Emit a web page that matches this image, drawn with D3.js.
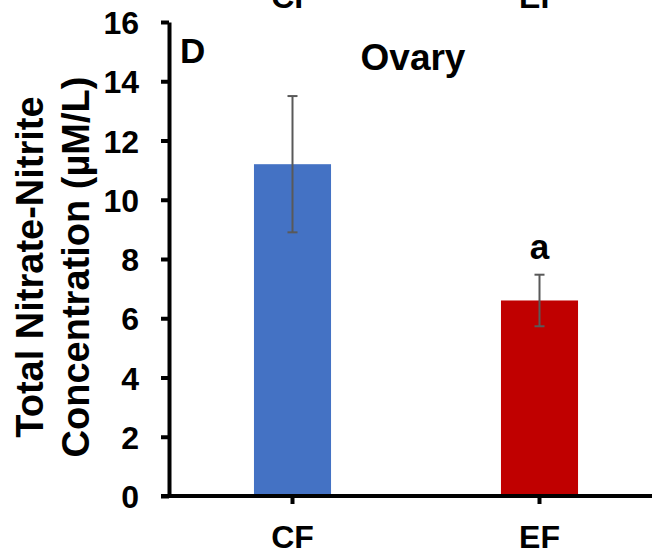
<!DOCTYPE html>
<html>
<head>
<meta charset="utf-8">
<script src="https://d3js.org/d3.v7.min.js"></script>
<style>
  body { margin: 0; background: #fff; }
  svg text { font-family: "Liberation Sans", Arial, sans-serif; font-weight: bold; fill: #000; }
</style>
</head>
<body>
<div id="chart"></div>
<script>
// data
var groups = ["CF", "EF"];
var means = [11.2, 6.6];
var errors = [2.3, 0.87];
var colors = ["#4472C4", "#C00000"];
var marks = ["", "a"];
var yTicks = [0, 2, 4, 6, 8, 10, 12, 14, 16];

var W = 652, H = 557;
var margin = {top: 22, right: 0, bottom: 61, left: 169};

var svg = d3.select("#chart").append("svg")
  .attr("width", W).attr("height", H);

var g = svg.append("g")
  .attr("transform", "translate(" + margin.left + "," + margin.top + ")");

var w = W - margin.left - margin.right,
    h = H - margin.top - margin.bottom;

var x = d3.scaleBand().domain(groups).range([0, 494]).paddingInner(0.688).paddingOuter(0.344);
var y = d3.scaleLinear().domain([0, 16]).range([h, 0]);

// bars
g.selectAll("rect.bar").data(groups).enter().append("rect")
  .attr("x", d => x(d))
  .attr("y", (d, i) => y(means[i]))
  .attr("width", x.bandwidth())
  .attr("height", (d, i) => h - y(means[i]))
  .attr("fill", (d, i) => colors[i]);

// error bars
var eb = g.selectAll("g.err").data(groups).enter().append("g")
  .attr("stroke", "#595959").attr("stroke-width", 2);
eb.append("line")
  .attr("x1", d => x(d) + x.bandwidth() / 2).attr("x2", d => x(d) + x.bandwidth() / 2)
  .attr("y1", (d, i) => y(means[i] + errors[i])).attr("y2", (d, i) => y(means[i] - errors[i]));
eb.append("line")
  .attr("x1", d => x(d) + x.bandwidth() / 2 - 5).attr("x2", d => x(d) + x.bandwidth() / 2 + 5)
  .attr("y1", (d, i) => y(means[i] + errors[i])).attr("y2", (d, i) => y(means[i] + errors[i]));
eb.append("line")
  .attr("x1", d => x(d) + x.bandwidth() / 2 - 5).attr("x2", d => x(d) + x.bandwidth() / 2 + 5)
  .attr("y1", (d, i) => y(means[i] - errors[i])).attr("y2", (d, i) => y(means[i] - errors[i]));

// significance letters
g.selectAll("text.mark").data(groups).enter().append("text")
  .attr("x", d => x(d) + x.bandwidth() / 2)
  .attr("y", (d, i) => y(means[i] + errors[i]) - 16)
  .attr("text-anchor", "middle")
  .style("font-size", "35px")
  .text((d, i) => marks[i]);

// axes
var yAxis = g.append("g")
  .call(d3.axisLeft(y).tickValues(yTicks).tickSize(8).tickSizeOuter(0).tickPadding(22));
var xAxis = g.append("g")
  .attr("transform", "translate(0," + h + ")")
  .call(d3.axisBottom(x).tickSize(8).tickSizeOuter(0).tickPadding(21));
xAxis.select(".domain").attr("d", "M-8,0H" + w);

[yAxis, xAxis].forEach(function (a) {
  a.selectAll(".domain").attr("stroke", "#000").attr("stroke-width", 4);
  a.selectAll(".tick line").attr("stroke", "#000").attr("stroke-width", 4);
});
yAxis.selectAll(".tick text").style("font-size", "32px").attr("dy", "0.36em");
xAxis.selectAll(".tick text").style("font-size", "32px");

// cut-off labels of the panel above
svg.selectAll("text.top").data(groups).enter().append("text")
  .attr("x", d => margin.left + x(d) + x.bandwidth() / 2)
  .attr("y", 8)
  .attr("text-anchor", "middle")
  .style("font-size", "32px")
  .text(d => d);

// panel letter and title
svg.append("text").attr("x", 180).attr("y", 63).style("font-size", "35px").text("D");
svg.append("text").attr("x", 413).attr("y", 70).attr("text-anchor", "middle")
  .style("font-size", "37px").text("Ovary");

// y title
var yt = svg.append("text")
  .attr("transform", "translate(0,267) rotate(-90)")
  .attr("text-anchor", "middle")
  .style("font-size", "38px");
yt.append("tspan").attr("x", 0).attr("y", 43).text("Total Nitrate-Nitrite");
yt.append("tspan").attr("x", 0).attr("y", 89).text("Concentration (µM/L)");
</script>
</body>
</html>
